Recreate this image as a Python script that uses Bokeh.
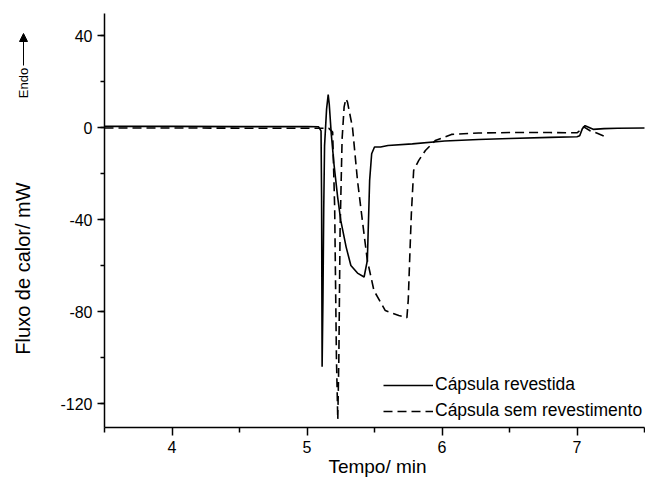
from bokeh.plotting import figure
from bokeh.models import (Range1d, FixedTicker, Label, Arrow, NormalHead,
                          Legend, LegendItem, ColumnDataSource)
from bokeh.embed import file_html
from bokeh.resources import INLINE
import math

# ---- data ----
t_revestida = [3.5, 4.0, 4.5, 5.0, 5.086, 5.104, 5.108, 5.112, 5.118, 5.124,
               5.13, 5.145, 5.157, 5.165, 5.18, 5.20, 5.227, 5.25, 5.29,
               5.325, 5.374, 5.423, 5.447, 5.464, 5.479, 5.50, 5.545, 5.6,
               5.78, 6.02, 6.27, 6.5, 6.8, 7.0, 7.02, 7.04, 7.06, 7.09,
               7.12, 7.2, 7.3, 7.5]
q_revestida = [0.5, 0.5, 0.4, 0.4, 0.3, -1.5, -30, -104, -75, -35,
               -8, 8, 14.3, 10, -3, -16, -30.3, -40.4, -52,
               -60, -63.3, -65, -57.8, -23, -11.4, -8.5, -8.5, -7.8,
               -7.1, -5.9, -5.2, -4.8, -4.3, -4.0, -3.6, -0.5, 0.8, 0,
               -0.8, -0.5, -0.3, -0.2]

t_sem = [3.5, 4.0, 4.5, 5.0, 5.16, 5.19, 5.205, 5.218, 5.228, 5.236,
         5.245, 5.26, 5.275, 5.288, 5.30, 5.337, 5.374, 5.41, 5.447,
         5.496, 5.58, 5.68, 5.74, 5.75, 5.762, 5.773, 5.79, 5.828, 5.877,
         5.95, 6.07, 6.27, 6.5, 6.8, 7.0, 7.03, 7.05, 7.1, 7.15, 7.2]
q_sem = [-0.2, -0.2, -0.3, -0.3, -0.3, -2, -35, -100, -127, -100,
         -45, -5, 9, 12.5, 11, 0, -23, -40.4, -57.8,
         -70.9, -79.6, -81.7, -82.7, -75, -55, -37.5, -18.7, -14.3, -10,
         -5.7, -3, -2.4, -2.2, -2.2, -2.3, -1, 0.3, -1.5, -2.5, -3.7]

x_major = [4, 5, 6, 7]
x_minor = [3.5, 4.5, 5.5, 6.5, 7.5]
y_major = [-120, -80, -40, 0, 40]
y_minor = [-120, -100, -80, -60, -40, -20, 0, 20, 40]
x_axis_bounds = (3.5, 7.5)
y_axis_bounds = (-130.43, 49.6)

label_revestida = "Cápsula revestida"
label_sem = "Cápsula sem revestimento"
x_title = "Tempo/ min"
y_title = "Fluxo de calor/ mW"
endo_text = "Endo"

FONT = "Liberation Sans"
W, H = 645, 481
PX_PER_X = 135.0      # pixels per minute
PX_PER_Y = 2.3        # pixels per mW
X0 = 3.5 - 104 / PX_PER_X          # data x at left canvas edge
Y_TOP = 127 / PX_PER_Y             # data y at top canvas edge


def dx(px):
    return X0 + px / PX_PER_X


def dy(py):
    return Y_TOP - py / PX_PER_Y


p = figure(width=W, height=H,
           x_range=Range1d(X0, X0 + W / PX_PER_X),
           y_range=Range1d(Y_TOP - H / PX_PER_Y, Y_TOP),
           output_backend="svg", toolbar_location=None,
           min_border=0, min_border_left=0, min_border_right=0,
           min_border_top=0, min_border_bottom=0)
p.title.visible = False
p.outline_line_color = None
p.xgrid.visible = False
p.ygrid.visible = False
p.background_fill_color = "white"
p.border_fill_color = "white"

src1 = ColumnDataSource(dict(t=t_revestida, q=q_revestida))
src2 = ColumnDataSource(dict(t=t_sem, q=q_sem))
r1 = p.line("t", "q", source=src1, line_color="black", line_width=1.6)
r2 = p.line("t", "q", source=src2, line_color="black", line_width=1.6,
            line_dash="9 5")

# axes (fixed at the plot corner, so the space around them stays in the frame)
for ax in (p.xaxis[0], p.yaxis[0]):
    ax.axis_line_width = 1.5
    ax.major_tick_line_width = 1.5
    ax.minor_tick_line_width = 1.5
    ax.major_tick_in = 0
    ax.minor_tick_in = 0
    ax.major_label_text_font = FONT
    ax.major_label_text_font_size = "16px"
    ax.major_label_text_color = "black"
    ax.axis_line_color = "black"
    ax.major_tick_line_color = "black"
    ax.minor_tick_line_color = "black"

xa = p.xaxis[0]
xa.ticker = FixedTicker(ticks=x_major, minor_ticks=x_minor)
xa.fixed_location = y_axis_bounds[0]
xa.bounds = x_axis_bounds
xa.major_tick_out = 8
xa.minor_tick_out = 5
xa.major_label_standoff = 6

ya = p.yaxis[0]
ya.ticker = FixedTicker(ticks=y_major, minor_ticks=y_minor)
ya.fixed_location = x_axis_bounds[0]
ya.bounds = y_axis_bounds
ya.major_tick_out = 7
ya.minor_tick_out = 4
ya.major_label_standoff = 5
ya.major_label_overrides = {v: str(v) for v in y_major}

# axis titles
p.add_layout(Label(x=dx(377), y=dy(466), text=x_title, text_font=FONT,
                   text_font_size="19px", text_align="center",
                   text_baseline="middle", text_color="black"))
p.add_layout(Label(x=dx(22), y=dy(268), text=y_title, text_font=FONT,
                   text_font_size="20px", text_align="center",
                   text_baseline="middle", angle=math.pi / 2,
                   text_color="black"))

# "Endo" with arrow
p.add_layout(Label(x=dx(23), y=dy(82.5), text=endo_text, text_font=FONT,
                   text_font_size="13px", text_align="center",
                   text_baseline="middle", angle=math.pi / 2,
                   text_color="black"))
p.add_layout(Arrow(end=NormalHead(size=8, fill_color="black",
                                  line_color="black", line_width=1),
                   x_start=dx(23), y_start=dy(65), x_end=dx(23), y_end=dy(33),
                   line_color="black", line_width=1))

legend = Legend(items=[LegendItem(label=label_revestida, renderers=[r1]),
                       LegendItem(label=label_sem, renderers=[r2])],
                location=(383, H - 421), padding=0, margin=0, spacing=5,
                glyph_width=50, glyph_height=20, label_height=20,
                label_standoff=2, label_text_font=FONT,
                label_text_font_size="17.5px", label_text_color="black",
                background_fill_alpha=0, border_line_alpha=0)
p.add_layout(legend)

open("out.html", "w").write(file_html(p, INLINE))
